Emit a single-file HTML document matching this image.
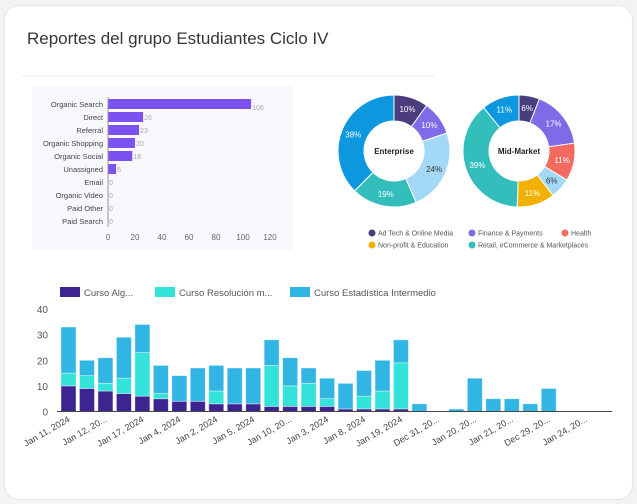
<!DOCTYPE html>
<html><head><meta charset="utf-8"><style>
body{margin:0;width:637px;height:504px;background:#f3f3f5;font-family:"Liberation Sans",sans-serif;overflow:hidden}
#card{position:absolute;left:4px;top:5px;width:627px;height:493px;background:#fff;border:1px solid #e6e6ea;border-radius:15px}
svg{position:absolute;left:0;top:0}
</style></head><body>
<div id="card"></div>
<svg id="s" width="637" height="504">
<text x="27" y="44" font-size="17" fill="#3b3436">Reportes del grupo Estudiantes Ciclo IV</text>
<line x1="22" y1="76" x2="435" y2="76" stroke="#ececf0"/>
<rect x="32" y="86" width="261" height="164" rx="4" fill="#f8f7fc"/>
<g id="hb"></g>
<g id="pies"></g>
<g id="vb"></g>
</svg>
<script>
const NS='http://www.w3.org/2000/svg';
function mk(p,t,a,txt){const e=document.createElementNS(NS,t);for(const k in a)e.setAttribute(k,a[k]);if(txt!==undefined)e.textContent=txt;p.appendChild(e);return e;}
// horizontal bar data
const channels=['Organic Search','Direct','Referral','Organic Shopping','Organic Social','Unassigned','Email','Organic Video','Paid Other','Paid Search'];
const channelValues=[106,26,23,20,18,6,0,0,0,0];
const hTicks=[0,20,40,60,80,100,120];
// donut data
const segNames=['Ad Tech & Online Media','Finance & Payments','Health','Other A','Non-profit & Education','Retail, eCommerce & Marketplaces','Other B'];
const enterpriseValues=[10,10,0,24,0,19,38];
const midMarketValues=[6,17,11,6,11,39,11];
// vertical bar data
const dates=['Jan 11, 2024','','Jan 12, 20...','','Jan 17, 2024','','Jan 4, 2024','','Jan 2, 2024','','Jan 5, 2024','','Jan 10, 20...','','Jan 3, 2024','','Jan 8, 2024','','Jan 19, 2024','','Dec 31, 20...','','Jan 20, 20...','','Jan 21, 20...','','Dec 29, 20...','','Jan 24, 20...',''];
const algebra=[10,9,8,7,6,5,4,4,3,3,3,2,2,2,2,1,1,1,1,0,0,0,0,0,0,0,0,0,0,0];
const resolucion=[5,5,3,6,17,2,0,0,5,0,0,16,8,9,3,0,5,7,18,0,0,0,0,0,0,0,0,0,0,0];
const estadistica=[18,6,10,16,11,11,10,13,10,14,14,10,11,6,8,10,10,12,9,3,0,1,13,5,5,3,9,0,0,0];
const vTicks=[0,10,20,30,40];

// horizontal chart
const hb=document.getElementById('hb');
const hx=v=>108+v*1.35, hy=i=>104+i*13;
hTicks.forEach(t=>{const e=mk(hb,'text',{x:hx(t),y:240,'font-size':8,fill:'#666','text-anchor':'middle'},t);

});
channels.forEach((c,i)=>{
 const l=mk(hb,'text',{x:103,y:hy(i)+3,'font-size':7.5,fill:'#444','text-anchor':'end'},c);
 
 
 const w=channelValues[i]*1.35;
 if(w>0){const r=mk(hb,'rect',{x:108,y:hy(i)-5,width:w,height:10,fill:'#7b52f0'});
 
 }
 const v=mk(hb,'text',{x:hx(channelValues[i])+1,y:hy(i)+(i==0?6:3),'font-size':7,fill:'#aaa'},channelValues[i]);
 
 
});
mk(hb,'line',{x1:108,y1:97,x2:108,y2:227,stroke:'#999','stroke-width':1});

// donuts
const colors=['#4a3c7d','#7f6ae8','#f36a5e','#a3d9f7','#f2b100','#33bebc','#0c97df'];
const pies=document.getElementById('pies');
function donut(cx,cy,vals,label){
 const tot=vals.reduce((a,b)=>a+b,0);let a0=-Math.PI/2;const R=56,r=30;
 vals.forEach((v,i)=>{if(!v)return;const a1=a0+v/tot*2*Math.PI;const lg=(a1-a0)>Math.PI?1:0;
  const p=(a,rr)=>[cx+rr*Math.cos(a),cy+rr*Math.sin(a)];
  const [x0,y0]=p(a0,R),[x1,y1]=p(a1,R),[x2,y2]=p(a1,r),[x3,y3]=p(a0,r);
  const s=mk(pies,'path',{d:`M${x0},${y0}A${R},${R} 0 ${lg} 1 ${x1},${y1}L${x2},${y2}A${r},${r} 0 ${lg} 0 ${x3},${y3}Z`,fill:colors[i],stroke:'#fff','stroke-width':1});
  
  
  const am=(a0+a1)/2;const [tx,ty]=p(am,44);
  const t=mk(pies,'text',{x:tx,y:ty+3,'font-size':8,fill:i==3?'#333':'#fff','text-anchor':'middle'},v+'%');
  
  
  a0=a1;});
 const c=mk(pies,'text',{x:cx,y:cy+3,'font-size':8,'font-weight':'bold',fill:'#222','text-anchor':'middle'},label);
 
 
}
donut(394,151,enterpriseValues,'Enterprise');
donut(519,151,midMarketValues,'Mid-Market');
const leg=[[0,372,233],[1,472,233],[2,565,233],[4,372,245],[5,472,245]];
leg.forEach(([i,x,y])=>{const c=mk(pies,'circle',{cx:x,cy:y,r:3.5,fill:colors[i]});
 
 
 const t=mk(pies,'text',{x:x+6,y:y+2.5,'font-size':7,fill:'#555'},segNames[i]);
 
 });

// vertical stacked bars
const vb=document.getElementById('vb');
const vy=v=>411.5-v*2.56, vx=i=>61+i*18.47;
vTicks.forEach(t=>{const e=mk(vb,'text',{x:48,y:vy(t)+4,'font-size':10,fill:'#555','text-anchor':'end'},t);

});
const sc=['#3d2491','#33e2d9','#31b5e3'];
dates.forEach((d,i)=>{
 let base=0;[algebra,resolucion,estadistica].forEach((ser,k)=>{const v=ser[i];if(v>0){
  const r=mk(vb,'rect',{x:vx(i),y:vy(base+v),width:15,height:v*2.56,fill:sc[k],stroke:'#fff','stroke-opacity':0.5,'stroke-width':0.8});
  
  }base+=v;});
 if(d){const cx=vx(i)+7.5;const t=mk(vb,'text',{x:cx+2,y:421,'font-size':9,fill:'#444','text-anchor':'end',transform:`rotate(-30 ${cx+2} 421)`},d);
 
 }
});
mk(vb,'line',{x1:57,y1:411.5,x2:612,y2:411.5,stroke:'#444','stroke-width':1});
const lg2=[['Curso Alg...',60],['Curso Resolución m...',155],['Curso Estadística Intermedio',290]];
lg2.forEach(([n,x],k)=>{const r=mk(vb,'rect',{x:x,y:287,width:20,height:10,fill:sc[k]});
 
 
 const t=mk(vb,'text',{x:x+24,y:296,'font-size':9.5,fill:'#555'},n);
 
 });
</script>
</body></html>
